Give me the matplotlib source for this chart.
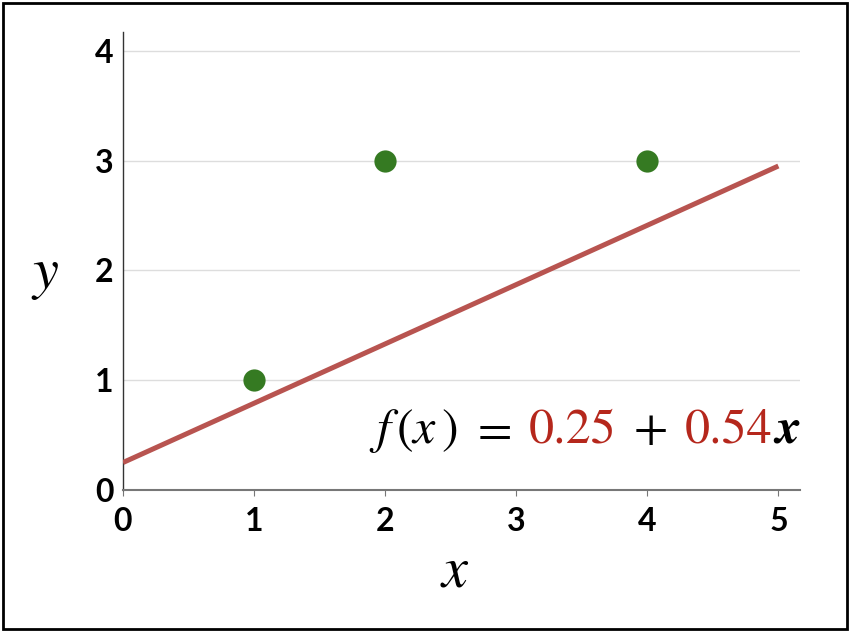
import matplotlib
matplotlib.use("Agg")
import matplotlib.pyplot as plt
from matplotlib.patches import Rectangle
from matplotlib.transforms import offset_copy

# data
pts_x = [1, 2, 4]
pts_y = [1, 3, 3]
intercept = 0.25
slope = 0.54
line_x = [0, 5]
xticks = [0, 1, 2, 3, 4, 5]
yticks = [0, 1, 2, 3, 4]

plt.rcParams['mathtext.fontset'] = 'stix'

fig = plt.figure(figsize=(8.5, 6.32), dpi=100)
ax = fig.add_axes([123 / 850, 1 - 490 / 632, 677 / 850, 458 / 632])

# border round the figure
fig.patches.append(Rectangle((3 / 850, 3 / 632), 844 / 850, 626 / 632,
                             transform=fig.transFigure, fill=False,
                             edgecolor='black', linewidth=2))

ax.set_xlim(0, 5.165)
ax.set_ylim(0, 4.17)

line_y = [intercept + slope * v for v in line_x]
ax.plot(line_x, line_y, color='#b85450', linewidth=3.6, solid_capstyle='butt', zorder=3)
ax.plot(pts_x, pts_y, 'o', color='#357a22', markersize=16, markeredgewidth=0, zorder=4)

ax.set_yticks(yticks)
ax.set_xticks(xticks)
ax.grid(axis='y', color='#dddddd', linewidth=1)
ax.set_axisbelow(True)
for s in ['top', 'right']:
    ax.spines[s].set_visible(False)
ax.spines['left'].set_color('#333333')
ax.spines['left'].set_linewidth(1)
ax.spines['bottom'].set_color('#777777')
ax.spines['bottom'].set_linewidth(1.5)
ax.tick_params(axis='y', length=0, pad=7, labelsize=23)
ax.tick_params(axis='x', length=4, color='#777777', pad=8, labelsize=23)
for lab in ax.get_xticklabels() + ax.get_yticklabels():
    lab.set_fontfamily('Lato')
    lab.set_fontweight('bold')

fig.text(45 / 850, 1 - 274 / 632, 'y', fontsize=42, fontfamily='STIXGeneral',
         style='italic', ha='center', va='center')
fig.text(455 / 850, 1 - 572 / 632, 'x', fontsize=42, fontfamily='STIXGeneral',
         style='italic', ha='center', va='center')

# equation, pieces laid side by side
red = '#b5271c'
pieces = [
    (r'$f\,(x\,)$', 'black', 'normal', 'normal'),
    (r'$=$', 'black', 'normal', 'normal'),
    ('0.25', red, 'normal', 'normal'),
    (r'$+$', 'black', 'normal', 'normal'),
    ('0.54', red, 'normal', 'normal'),
    ('x', 'black', 'italic', 'bold'),
]
gaps = [12, 18, 16, 18, 3, 0]
fig.canvas.draw()
renderer = fig.canvas.get_renderer()
x0, y0 = 1.88, 0.43
dx = 0
for (s, c, st, w), g in zip(pieces, gaps):
    t = ax.text(x0, y0, s, color=c, fontsize=36, fontfamily='STIXGeneral',
                style=st, weight=w, ha='left', va='baseline',
                transform=offset_copy(ax.transData, fig, x=dx, units='dots'))
    bb = t.get_window_extent(renderer)
    dx += bb.width + g

fig.savefig('out.png', dpi=100)
